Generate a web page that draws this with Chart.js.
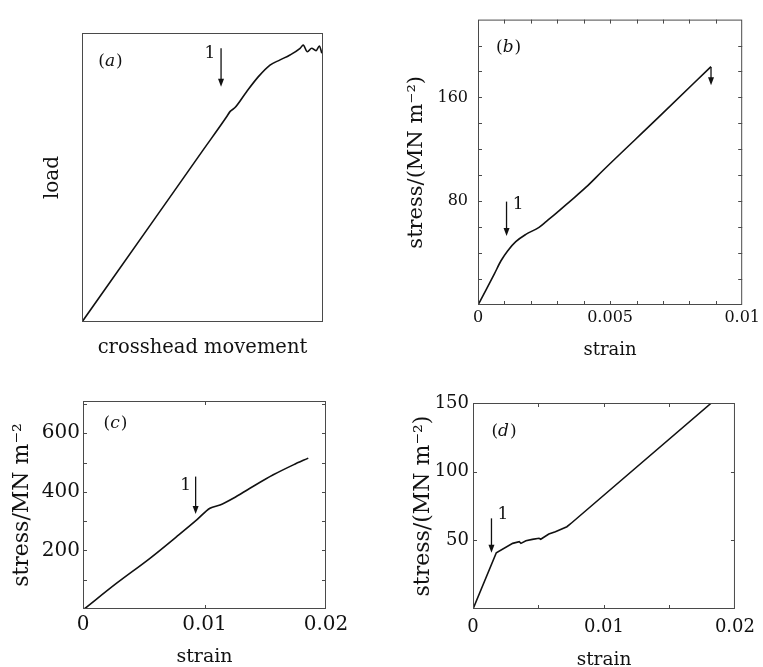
<!DOCTYPE html>
<html>
<head>
<meta charset="utf-8">
<script src="https://cdn.jsdelivr.net/npm/chart.js@4.4.1/dist/chart.umd.min.js"></script>
<style>
  html, body { margin: 0; padding: 0; background: #fff; overflow: hidden; }
  #wrap { position: relative; width: 763px; height: 667px; }
  canvas { position: absolute; }
</style>
</head>
<body>
<div id="wrap">
  <canvas id="chartA" width="381" height="370" style="left:0;top:0"></canvas>
  <canvas id="chartB" width="382" height="370" style="left:381px;top:0"></canvas>
  <canvas id="chartC" width="381" height="310" style="left:0;top:370px"></canvas>
  <canvas id="chartD" width="382" height="310" style="left:381px;top:370px"></canvas>
</div>
<script>
// (a) load vs crosshead movement, no scale (normalised 0..1)
const moveA = [0, 0.3, 0.5, 0.600, 0.614, 0.635, 0.683, 0.732, 0.780, 0.822, 0.863, 0.905, 0.918, 0.935, 0.953, 0.971, 0.985, 0.995];
const loadA = [0, 0.355, 0.592, 0.710, 0.728, 0.742, 0.797, 0.849, 0.889, 0.907, 0.924, 0.947, 0.958, 0.935, 0.947, 0.939, 0.955, 0.930];

// (b)
const strainB = [0, 0.0003, 0.00062, 0.00087, 0.00112, 0.00143, 0.00181, 0.00231, 0.00259, 0.00292, 0.00347, 0.0041, 0.00473, 0.0068, 0.00882];
const stressB = [0, 11.4, 24, 34.1, 41.7, 48.8, 54.4, 59.9, 64.5, 70, 79.7, 91, 103.7, 144, 183.8];
const xLabelsB = [0, 0.005, 0.01];
const yLabelsB = [80, 160];
const xTicksB = [0.001, 0.002, 0.003, 0.004, 0.005, 0.006, 0.007, 0.008, 0.009];
const yTicksB = [20, 40, 60, 80, 100, 120, 140, 160, 180, 200];

// (c)
const strainC = [0.0001, 0.00277, 0.00551, 0.00771, 0.00936, 0.01045, 0.01128, 0.01237, 0.01374, 0.01566, 0.01731, 0.01854];
const stressC = [0, 88, 173, 247, 304, 344, 355, 378, 412, 458, 492, 515];
const xLabelsC = [0, 0.01, 0.02];
const yLabelsC = [200, 400, 600];
const xTicksC = [0.01];
const yTicksC = [100, 200, 300, 400, 500, 600, 700];

// (d)
const strainD = [0, 0.00178, 0.00303, 0.00353, 0.00366, 0.00404, 0.00453, 0.00504, 0.00517, 0.00579, 0.00629, 0.00717, 0.00754, 0.0182];
const stressD = [0, 41, 47.8, 49, 47.8, 49.7, 50.7, 51.5, 50.8, 54.6, 56.3, 59.9, 62.8, 150];
const xLabelsD = [0, 0.01, 0.02];
const yLabelsD = [50, 100, 150];
const xTicksD = [0.005, 0.01, 0.015];
const yTicksD = [50, 100];

const INK = '#111';
const SERIF = '"DejaVu Serif", "Liberation Serif", serif';

// box, inward ticks, panel letter and arrows
const framePlugin = {
  id: 'frame',
  afterDatasetsDraw(chart, args, opts) {
    const { ctx, chartArea: a } = chart;
    const x = chart.scales.x, y = chart.scales.y;
    ctx.save();
    ctx.strokeStyle = '#4a4a4a';
    ctx.lineWidth = 1;
    ctx.strokeRect(a.left + 0.5, a.top + 0.5, a.width - 1, a.height - 1);

    ctx.beginPath();
    for (const v of opts.xTicks || []) {
      const px = Math.round(x.getPixelForValue(v)) + 0.5;
      ctx.moveTo(px, a.bottom); ctx.lineTo(px, a.bottom - 4);
      ctx.moveTo(px, a.top); ctx.lineTo(px, a.top + 4);
    }
    for (const v of opts.yTicks || []) {
      const py = Math.round(y.getPixelForValue(v)) + 0.5;
      ctx.moveTo(a.left, py); ctx.lineTo(a.left + 4, py);
      ctx.moveTo(a.right, py); ctx.lineTo(a.right - 4, py);
    }
    ctx.stroke();

    // panel letter, e.g. (a) with italic letter
    const tag = opts.tag;
    if (tag) {
      const tx = x.getPixelForValue(tag.x), ty = y.getPixelForValue(tag.y);
      const up = '17px ' + SERIF, it = 'italic 17px ' + SERIF;
      ctx.font = up; const wp = ctx.measureText('(').width;
      ctx.font = it; const wl = ctx.measureText(tag.t).width;
      let sx = tx - (2 * wp + wl) / 2;
      ctx.fillStyle = INK;
      ctx.textBaseline = 'middle';
      ctx.textAlign = 'left';
      ctx.font = up; ctx.fillText('(', sx, ty);
      ctx.font = it; ctx.fillText(tag.t, sx + wp, ty);
      ctx.font = up; ctx.fillText(')', sx + wp + wl + 1, ty);
    }

    for (const ar of opts.arrows || []) {
      const px = x.getPixelForValue(ar.x);
      const p1 = y.getPixelForValue(ar.from), p2 = y.getPixelForValue(ar.to);
      const head = Math.min(8, (p2 - p1) * 0.45);
      ctx.strokeStyle = INK;
      ctx.lineWidth = 1.3;
      ctx.beginPath();
      ctx.moveTo(px, p1); ctx.lineTo(px, p2 - head + 1);
      ctx.stroke();
      ctx.fillStyle = INK;
      ctx.beginPath();
      ctx.moveTo(px - 3, p2 - head); ctx.lineTo(px + 3, p2 - head); ctx.lineTo(px, p2);
      ctx.closePath(); ctx.fill();
      if (ar.label) {
        ctx.font = '17px ' + SERIF;
        ctx.textAlign = 'center';
        ctx.textBaseline = 'middle';
        ctx.fillText(ar.label, x.getPixelForValue(ar.lx), y.getPixelForValue(ar.ly));
      }
    }
    ctx.restore();
  }
};

function makePanel(id, p) {
  return new Chart(document.getElementById(id), {
    type: 'scatter',
    data: {
      datasets: [{
        data: p.xs.map((v, i) => ({ x: v, y: p.ys[i] })),
        showLine: true,
        borderColor: INK,
        borderWidth: 1.6,
        pointRadius: 0,
        cubicInterpolationMode: p.smooth ? 'monotone' : 'default',
        tension: 0
      }]
    },
    options: {
      responsive: false,
      animation: false,
      devicePixelRatio: 1,
      layout: { padding: { left: 0, top: p.padTop, right: p.padRight, bottom: 0 } },
      plugins: {
        legend: { display: false },
        tooltip: { enabled: false },
        frame: { xTicks: p.xTicks, yTicks: p.yTicks, tag: p.tag, arrows: p.arrows }
      },
      scales: {
        x: {
          type: 'linear', min: p.xMin, max: p.xMax,
          grid: { display: false, drawTicks: false },
          border: { display: false },
          afterBuildTicks: s => { s.ticks = p.xLabels.map(v => ({ value: v })); },
          afterFit: s => { s.height = p.xHeight; },
          ticks: {
            display: p.xLabels.length > 0, padding: p.xTickPad, color: INK,
            font: { family: SERIF, size: p.tickSize }, maxRotation: 0, autoSkip: false,
            callback: v => String(v)
          },
          title: {
            display: true, text: p.xTitle, color: INK,
            font: { family: SERIF, size: p.xTitleSize },
            padding: { top: 0, bottom: p.xTitlePad }
          }
        },
        y: {
          type: 'linear', min: p.yMin, max: p.yMax,
          grid: { display: false, drawTicks: false },
          border: { display: false },
          afterBuildTicks: s => { s.ticks = p.yLabels.map(v => ({ value: v })); },
          afterFit: s => { s.width = p.yWidth; },
          ticks: {
            display: p.yLabels.length > 0, padding: p.yTickPad, color: INK,
            font: { family: SERIF, size: p.tickSize }, autoSkip: false,
            callback: v => String(v)
          },
          title: {
            display: true, text: p.yTitle, color: INK,
            font: { family: SERIF, size: p.yTitleSize },
            padding: { top: p.yTitlePad, bottom: 0 }
          }
        }
      }
    },
    plugins: [framePlugin]
  });
}

makePanel('chartA', {
  xs: moveA, ys: loadA, smooth: true,
  xMin: 0, xMax: 1, yMin: 0, yMax: 1,
  xLabels: [], yLabels: [], xTicks: [], yTicks: [],
  padTop: 33, padRight: 58, yWidth: 82, xHeight: 48,
  tickSize: 16, xTickPad: 0, yTickPad: 0,
  xTitle: 'crosshead movement', xTitleSize: 19.5, xTitlePad: 10,
  yTitle: 'load', yTitleSize: 20, yTitlePad: 41,
  tag: { t: 'a', x: 0.116, y: 0.902 },
  arrows: [{ x: 0.577, from: 0.947, to: 0.814, label: '1', lx: 0.531, ly: 0.93 }]
});

makePanel('chartB', {
  xs: strainB, ys: stressB, smooth: true,
  xMin: 0, xMax: 0.01, yMin: 0, yMax: 220,
  xLabels: xLabelsB, yLabels: yLabelsB, xTicks: xTicksB, yTicks: yTicksB,
  padTop: 15, padRight: 20, yWidth: 97, xHeight: 65,
  tickSize: 16, xTickPad: 3, yTickPad: 10,
  xTitle: 'strain', xTitleSize: 18, xTitlePad: 9,
  yTitle: 'stress/(MN m⁻²)', yTitleSize: 21, yTitlePad: 23,
  tag: { t: 'b', x: 0.00114, y: 198.5 },
  arrows: [
    { x: 0.00108, from: 79.7, to: 53.1, label: '1', lx: 0.00152, ly: 77.2 },
    { x: 0.00882, from: 183.4, to: 169.4 }
  ]
});

makePanel('chartC', {
  xs: strainC, ys: stressC, smooth: true,
  xMin: 0, xMax: 0.02, yMin: 0, yMax: 710,
  xLabels: xLabelsC, yLabels: yLabelsC, xTicks: xTicksC, yTicks: yTicksC,
  padTop: 31, padRight: 55, yWidth: 83, xHeight: 71,
  tickSize: 20, xTickPad: 4, yTickPad: 3,
  xTitle: 'strain', xTitleSize: 19, xTitlePad: 11.6,
  yTitle: 'stress/MN m⁻²', yTitleSize: 22, yTitlePad: 9,
  tag: { t: 'c', x: 0.00263, y: 634 },
  arrows: [{ x: 0.00927, from: 452, to: 324, label: '1', lx: 0.00845, ly: 423 }]
});

makePanel('chartD', {
  xs: strainD, ys: stressD, smooth: false,
  xMin: 0, xMax: 0.02, yMin: 0, yMax: 150,
  xLabels: xLabelsD, yLabels: yLabelsD, xTicks: xTicksD, yTicks: yTicksD,
  padTop: 33, padRight: 24, yWidth: 92, xHeight: 71,
  tickSize: 18, xTickPad: 8, yTickPad: 4,
  xTitle: 'strain', xTitleSize: 18.5, xTitlePad: 9,
  yTitle: 'stress/(MN m⁻²)', yTitleSize: 22, yTitlePad: 29,
  tag: { t: 'd', x: 0.00233, y: 129 },
  arrows: [{ x: 0.00141, from: 66, to: 41, label: '1', lx: 0.00228, ly: 68.4 }]
});
</script>
</body>
</html>
